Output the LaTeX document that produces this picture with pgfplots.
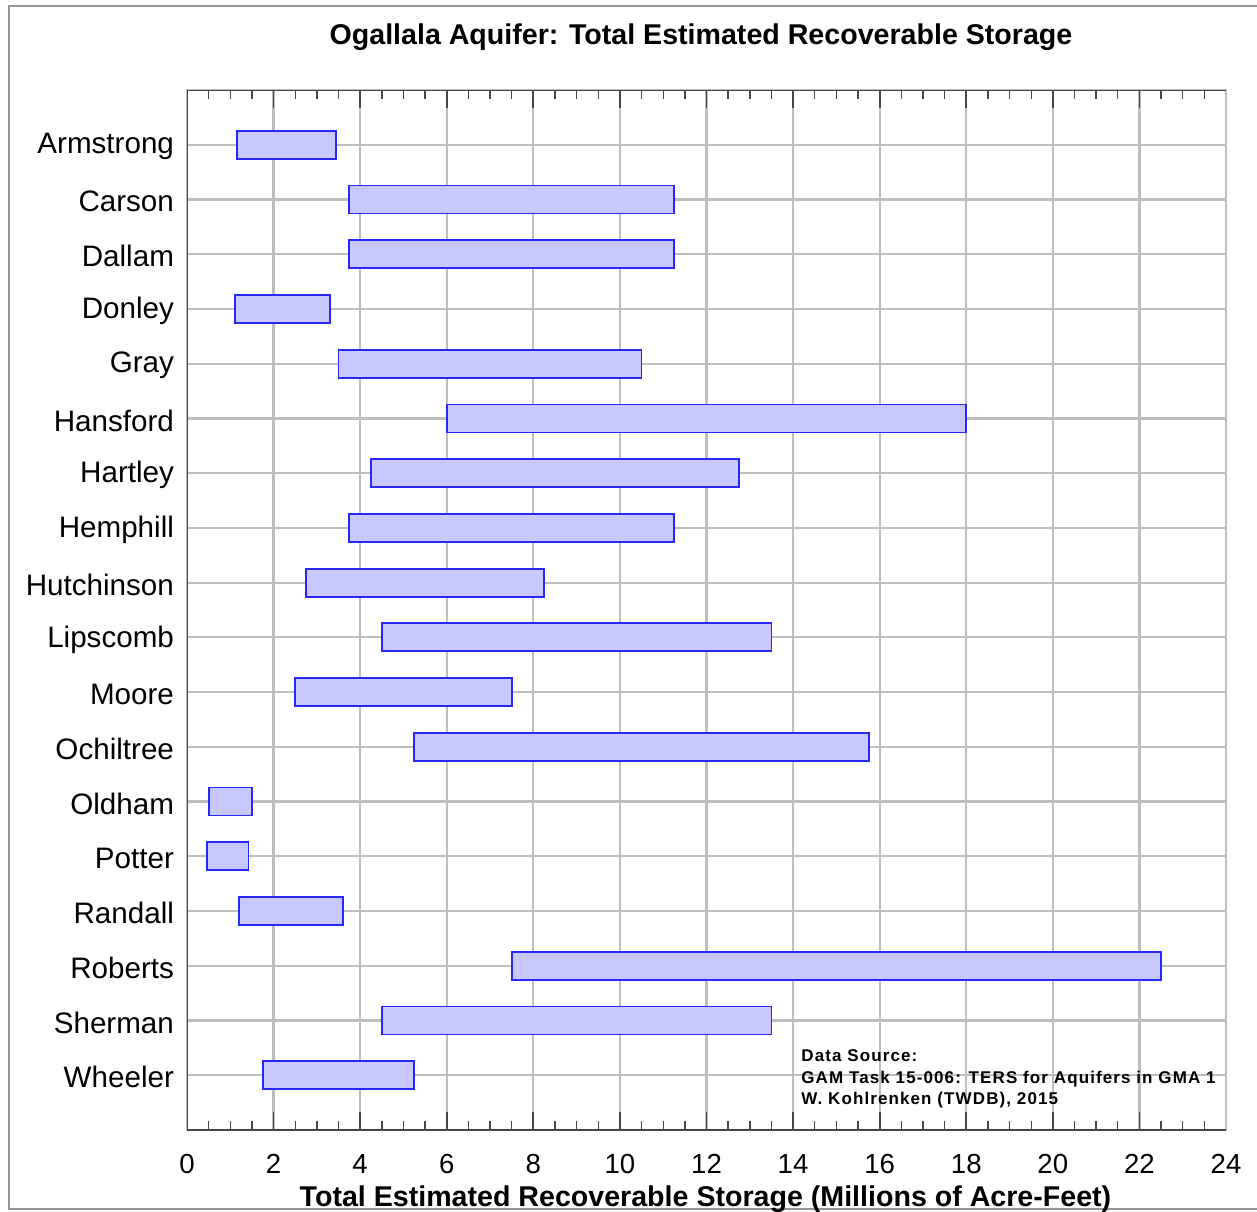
\documentclass[border=0pt]{standalone}
\usepackage{fontspec}
\setmainfont{Liberation Sans}
\usepackage{pgfplots}
\usepackage{pgfplotstable}
\pgfplotsset{compat=1.18}

\definecolor{barfill}{RGB}{200,200,255}
\definecolor{barline}{RGB}{40,40,250}
\definecolor{gridgray}{RGB}{190,190,190}
\definecolor{axisdark}{RGB}{70,70,70}
\definecolor{framegray}{RGB}{150,150,150}

% County, low and high estimate of recoverable storage (millions of acre-feet)
\pgfplotstableread{
idx lo   hi
0   1.15 3.45
1   3.75 11.25
2   3.75 11.25
3   1.10 3.30
4   3.50 10.50
5   6.00 18.00
6   4.25 12.75
7   3.75 11.25
8   2.75 8.25
9   4.50 13.50
10  2.50 7.50
11  5.25 15.75
12  0.50 1.50
13  0.47 1.42
14  1.20 3.60
15  7.50 22.50
16  4.50 13.50
17  1.75 5.25
}\storage

\begin{document}
\begin{tikzpicture}
\useasboundingbox (0,0) rectangle (628.5pt,605.5pt);
% outer frame
\draw[framegray, line width=0.8pt] (640pt,602.5pt) -- (4.5pt,602.5pt) -- (4.5pt,1pt) -- (640pt,1pt);

\begin{axis}[
  at={(93.5pt,40.5pt)}, anchor=south west,
  scale only axis, width=519.5pt, height=520pt,
  xmin=0, xmax=24, ymin=-1, ymax=18, y dir=reverse,
  xbar stacked, bar width=14pt,
  xtick={0,2,...,24}, minor x tick num=3,
  ytick={0,...,17},
  yticklabels={Armstrong,Carson,Dallam,Donley,Gray,Hansford,Hartley,Hemphill,Hutchinson,Lipscomb,Moore,Ochiltree,Oldham,Potter,Randall,Roberts,Sherman,Wheeler},
  xmajorgrids, ymajorgrids,
  major grid style={draw=gridgray, line width=1.1pt},
  axis line style={draw=gridgray, line width=1.1pt},
  tick align=inside,
  major tick length=9pt, minor tick length=4.5pt,
  xtick style={draw=axisdark, line width=0.9pt},
  minor x tick style={line width=0.7pt},
  ytick style={draw=none},
  /pgf/number format/assume math mode=true,
  xticklabel style={font=\fontsize{13.8}{16}\selectfont, yshift=-8.5pt},
  yticklabel style={font=\fontsize{14.8}{17}\selectfont, xshift=-3pt, yshift=-1pt},
]
\addplot[draw=none, fill=none, forget plot] table[x=lo, y=idx] {\storage};
\addplot[fill=barfill, draw=barline, line width=0.9pt]
  table[x expr=\thisrow{hi}-\thisrow{lo}, y=idx] {\storage};
% dark frame on left, top and bottom
\draw[axisdark, line width=1pt] (rel axis cs:1,0) -- (rel axis cs:0,0)
  -- (rel axis cs:0,1) -- (rel axis cs:1,1);
\end{axis}

\node[font=\bfseries\fontsize{14.3}{17}\selectfont] at (350.5pt,587pt)
  {Ogallala Aquifer: Total Estimated Recoverable Storage};
\node[font=\bfseries\fontsize{14.3}{17}\selectfont, anchor=base, inner sep=0pt] at (352.75pt,2.5pt)
  {Total Estimated Recoverable Storage (Millions of Acre-Feet)};
\begin{scope}[every node/.style={anchor=base west, inner sep=0pt,
    font=\bfseries\fontsize{8.5}{10}\selectfont\addfontfeature{LetterSpace=6.5}}]
  \node at (400.5pt,75pt) {Data Source:};
  \node at (400.5pt,64pt) {GAM Task 15-006: TERS for Aquifers in GMA 1};
  \node at (400.5pt,53.5pt) {W. Kohlrenken (TWDB), 2015};
\end{scope}
\end{tikzpicture}
\end{document}
